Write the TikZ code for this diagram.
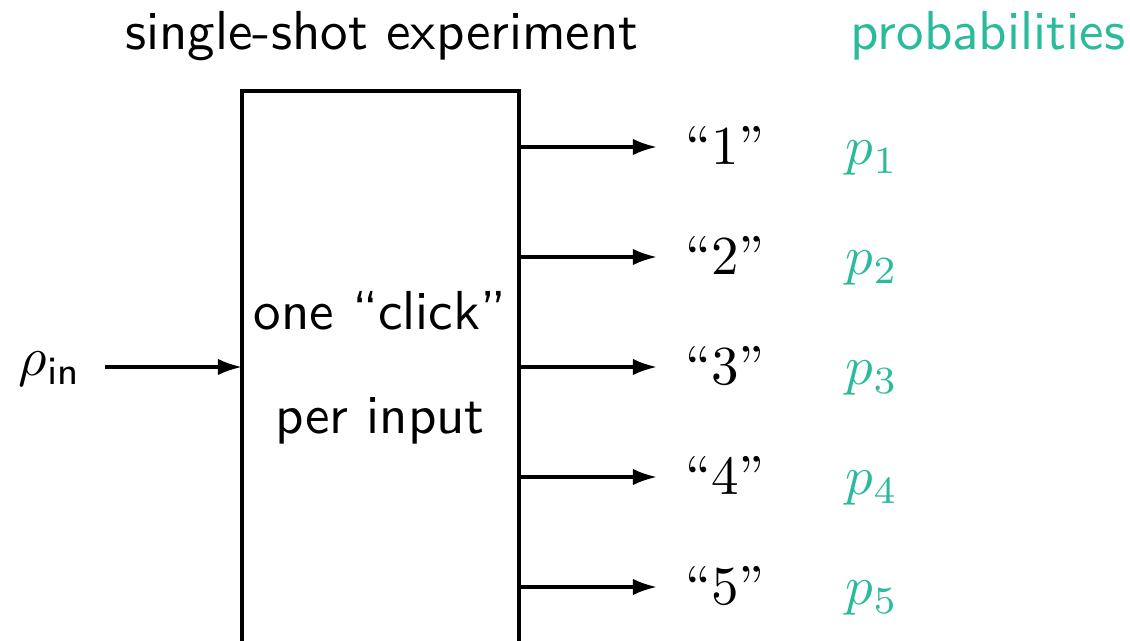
\documentclass[tikz,border=0pt]{standalone}
\usetikzlibrary{arrows.meta}
\definecolor{probteal}{RGB}{42,187,155}
\begin{document}
\begin{tikzpicture}[x=0.182pt,y=-0.182pt,
  wire/.style={line width=0.6pt,-{Latex[length=4.4pt,width=3pt]}},
  lbl/.style={inner sep=0pt,anchor=base},
  prob/.style={lbl,text=probteal}]
\useasboundingbox (0,0) rectangle (1130,641);
\clip (0,0) rectangle (1130,641);

% measurement device (runs off the lower edge)
\draw[line width=0.6pt] (242,700) -- (242,91) -- (519,91) -- (519,700);
\coordinate (boxin) at (242,367);

% headings
\node[lbl] (title) at (382,50) {\sffamily single-shot experiment};
\node[prob] (probs) at (988,50) {\sffamily probabilities};

% box text
\node[lbl] (l1) at (380,330) {\sffamily one \textquotedblleft click\textquotedblright};
\node[lbl] (l2) at (380,434) {\sffamily per input};

% input state
\node[lbl] (rho) at (50,376) {$\rho_{\mathsf{in}}$};
\coordinate (rhoend) at (105,367);
\draw[wire] (rhoend) -- (boxin);

% outcomes
\foreach \k/\yy in {1/147,2/257,3/367,4/477,5/587}{
  \coordinate (o\k) at (519,\yy);
  \coordinate (t\k) at (657,\yy);
  \draw[wire] (o\k) -- (t\k);
  \node[lbl] (out\k) at (725,\yy+18) {\textquotedblleft$\k$\textquotedblright};
  \node[prob] (p\k) at (872,\yy+18) {$p_{\k}$};
}
\end{tikzpicture}
\end{document}
